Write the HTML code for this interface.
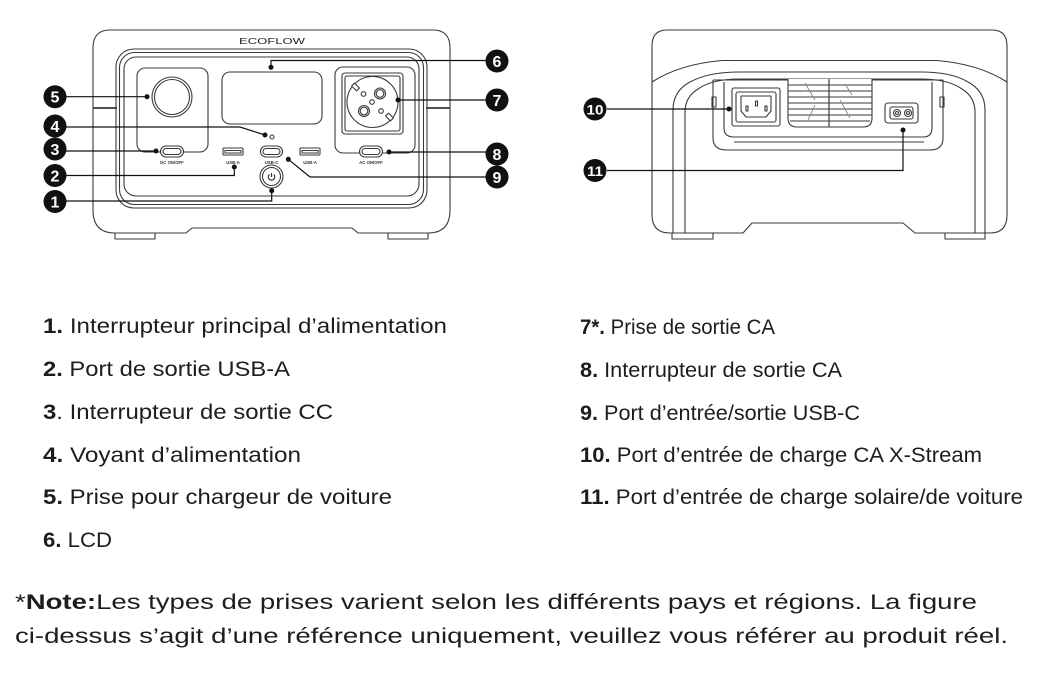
<!DOCTYPE html>
<html><head><meta charset="utf-8">
<style>
html,body{margin:0;padding:0;background:#fff;}
svg{display:block;}
</style></head>
<body>
<svg width="1046" height="674" viewBox="0 0 1046 674" xmlns="http://www.w3.org/2000/svg">
<rect x="0" y="0" width="1046" height="674" fill="#fff"/>

<!-- ================= FRONT DEVICE ================= -->
<g fill="none" stroke="#3a3a3a" stroke-width="1.1" stroke-linejoin="round">
  <path d="M110,30 H433 Q450,30 450,48 V210 Q450,233 428,233 H358 L352,228 H192 L186,233 H115 Q93,233 93,210 V48 Q93,30 110,30 Z"/>
  <path d="M115,233 V239 H155 V233"/>
  <path d="M388,233 V239 H428 V233"/>
  <line x1="93" y1="108" x2="117" y2="108" stroke-width="1.8"/>
  <line x1="426" y1="108" x2="450" y2="108" stroke-width="1.8"/>
  <rect x="116" y="49" width="311" height="159" rx="18"/>
  <rect x="119.5" y="52.5" width="304" height="152" rx="15"/>
  <rect x="124" y="57" width="295" height="139" rx="12"/>
  <rect x="137" y="68" width="71" height="84" rx="8"/>
  <circle cx="172" cy="97" r="20"/>
  <circle cx="172" cy="97" r="17.5"/>
  <rect x="222" y="72" width="100" height="52" rx="8"/>
  <rect x="335" y="67" width="80" height="86" rx="8"/>
  <rect x="342" y="73" width="61" height="61" rx="3"/>
  <rect x="345" y="76" width="55" height="55" rx="2"/>
  <circle cx="372.5" cy="102" r="25.5" fill="#fff"/>
  <circle cx="380" cy="93.5" r="5.5"/>
  <circle cx="380" cy="93.5" r="3.8"/>
  <circle cx="364" cy="111" r="5.5"/>
  <circle cx="364" cy="111" r="3.8"/>
  <circle cx="363.5" cy="94" r="2.3"/>
  <circle cx="381" cy="111" r="2.3"/>
  <circle cx="372" cy="102" r="2.3"/>
  <rect x="352" y="85" width="7" height="4" transform="rotate(45 355.5 87)" fill="#fff"/>
  <rect x="386" y="115" width="7" height="4" transform="rotate(45 389.5 117)" fill="#fff"/>
  <rect x="160.5" y="146" width="23" height="11" rx="5.5" fill="#fff"/>
  <rect x="163" y="148.5" width="18" height="6" rx="3"/>
  <rect x="223" y="148" width="20" height="7" rx="1" fill="#fff"/>
  <rect x="225" y="150.5" width="16" height="2.5"/>
  <rect x="260.5" y="146" width="22" height="11" rx="5.5" fill="#fff"/>
  <rect x="263" y="148.5" width="17" height="6" rx="3"/>
  <rect x="300" y="148" width="20" height="7" rx="1" fill="#fff"/>
  <rect x="302" y="150.5" width="16" height="2.5"/>
  <rect x="359.5" y="146" width="23" height="11" rx="5.5" fill="#fff"/>
  <rect x="362" y="148.5" width="18" height="6" rx="3"/>
  <circle cx="271.5" cy="176.5" r="11.5" fill="#fff"/>
  <circle cx="271.5" cy="176.5" r="9"/>
  <path d="M269.3,174.6 A3.2,3.2 0 1 0 273.7,174.6" stroke-width="1.2"/>
  <line x1="271.5" y1="173" x2="271.5" y2="177" stroke-width="1.2"/>
  <circle cx="272" cy="137" r="2"/>
</g>
<g font-family="Liberation Sans, sans-serif" font-size="4.3" font-weight="bold" fill="#333" text-anchor="middle">
  <text x="172" y="164">DC ON/OFF</text>
  <text x="233" y="164">USB-A</text>
  <text x="271.5" y="164">USB-C</text>
  <text x="310" y="164">USB-A</text>
  <text x="371" y="164">AC ON/OFF</text>
</g>
<text x="239" y="44" font-family="Liberation Sans, sans-serif" font-size="8" fill="#222" textLength="66" lengthAdjust="spacingAndGlyphs">ECOFLOW</text>

<g fill="none" stroke="#111" stroke-width="1.2">
  <line x1="66" y1="96.7" x2="147" y2="96.7"/>
  <polyline points="66,127 240,127 265,135"/>
  <line x1="66" y1="151" x2="156" y2="151"/>
  <polyline points="66,175.5 234.3,175.5 234.3,167"/>
  <polyline points="66,201 271.7,201 271.7,191"/>
  <polyline points="486,60.5 271,60.5 271,67"/>
  <line x1="486" y1="100" x2="398" y2="100"/>
  <line x1="486" y1="152" x2="389" y2="152"/>
  <polyline points="486,177 310,177 288.3,159.3"/>
</g>
<g fill="#111">
  <circle cx="147" cy="96.7" r="2.5"/>
  <circle cx="265" cy="135" r="2.5"/>
  <circle cx="156" cy="151" r="2.5"/>
  <circle cx="234.3" cy="167" r="2.5"/>
  <circle cx="271.7" cy="190.7" r="2.5"/>
  <circle cx="271" cy="67.3" r="2.5"/>
  <circle cx="398" cy="100" r="2.5"/>
  <circle cx="389" cy="152" r="2.5"/>
  <circle cx="288.3" cy="159.3" r="2.5"/>
</g>

<!-- ================= BACK DEVICE ================= -->
<g fill="none" stroke="#3a3a3a" stroke-width="1.1" stroke-linejoin="round">
  <path d="M667,30 H992 Q1007,30 1007,46 V215 Q1007,233 990,233 H915 L903,223 H752 L743,233 H670 Q652,233 652,215 V46 Q652,30 667,30 Z"/>
  <path d="M672,233 V239 H713 V233"/>
  <path d="M945,233 V239 H985 V233"/>
  <path d="M652,82 Q680,64 722,60.5 H937 Q979,64 1007,82"/>
  <path d="M673,233 V110 Q673,91 690,82 Q708,72 740,72 H920 Q952,72 968,82 Q985,91 985,110 V233"/>
  <path d="M685,233 V112 Q685,97 698,89 Q712,79 740,79 H920 Q948,79 962,89 Q975,97 975,112 V233"/>
  <line x1="713" y1="80" x2="943" y2="80"/>
  <path d="M713,80 V138 Q713,150 727,150 H930 Q943,150 943,138 V80"/>
  <path d="M724,82 V128 Q724,137 734,137 H923 Q932,137 932,128 V82"/>
  <line x1="734" y1="142" x2="924" y2="142"/>
  <rect x="712" y="97" width="4" height="10"/>
  <rect x="940" y="97" width="4" height="10"/>
  <path d="M788,79 V118 Q788,127 797,127 H863 Q872,127 872,118 V79" fill="#fff"/>
  <g stroke-width="0.9">
    <line x1="788" y1="85" x2="872" y2="85"/>
    <line x1="788" y1="91" x2="872" y2="91"/>
    <line x1="788" y1="97" x2="872" y2="97"/>
    <line x1="788" y1="103" x2="872" y2="103"/>
    <line x1="788" y1="109" x2="872" y2="109"/>
    <line x1="788" y1="115" x2="872" y2="115"/>
    <line x1="790" y1="121" x2="870" y2="121"/>
    <line x1="829" y1="79" x2="829" y2="127" stroke-width="1.2"/>
    <path d="M805,83 L815,100 M840,100 L850,118 M815,105 L808,120 M845,84 L852,95" stroke="#888"/>
  </g>
  <rect x="732" y="88" width="48" height="38" rx="2" fill="#fff"/>
  <rect x="736" y="92" width="40" height="30" rx="2"/>
  <path d="M741,96 H771 V111 L766,117 H746 L741,111 Z"/>
  <rect x="746" y="106" width="2" height="5"/>
  <rect x="755.5" y="101" width="2" height="5"/>
  <rect x="765" y="106" width="2" height="5"/>
  <rect x="885" y="103" width="33" height="20" rx="3" fill="#fff"/>
  <rect x="890" y="107" width="23" height="12" rx="2"/>
  <circle cx="897" cy="113" r="3.5"/>
  <circle cx="897" cy="113" r="1.5"/>
  <circle cx="908" cy="113" r="3.5"/>
  <circle cx="908" cy="113" r="1.5"/>
</g>
<g fill="none" stroke="#111" stroke-width="1.2">
  <line x1="607" y1="109" x2="729" y2="109"/>
  <polyline points="607,170.5 903,170.5 903,130"/>
</g>
<g fill="#111">
  <circle cx="729" cy="109" r="2.5"/>
  <circle cx="903" cy="130" r="2.5"/>
</g>

<!-- ================= BADGES ================= -->
<g fill="#111">
  <circle cx="55" cy="96.7" r="11.5"/>
  <circle cx="55" cy="126" r="11.5"/>
  <circle cx="55" cy="149" r="11.5"/>
  <circle cx="55" cy="175.5" r="11.5"/>
  <circle cx="55" cy="201.5" r="11.5"/>
  <circle cx="497" cy="61" r="11.5"/>
  <circle cx="497" cy="100" r="11.5"/>
  <circle cx="497" cy="154" r="11.5"/>
  <circle cx="497" cy="177" r="11.5"/>
  <circle cx="595" cy="109" r="11.5"/>
  <circle cx="595" cy="170.5" r="11.5"/>
</g>
<g font-family="Liberation Sans, sans-serif" font-size="16" font-weight="bold" fill="#fff" text-anchor="middle">
  <text x="55" y="102.5">5</text>
  <text x="55" y="131.8">4</text>
  <text x="55" y="154.8">3</text>
  <text x="55" y="181.3">2</text>
  <text x="55" y="207.3">1</text>
  <text x="497" y="66.8">6</text>
  <text x="497" y="105.8">7</text>
  <text x="497" y="159.8">8</text>
  <text x="497" y="182.8">9</text>
  <text x="595" y="114.5" font-size="14" textLength="17" lengthAdjust="spacingAndGlyphs">10</text>
  <text x="595" y="176" font-size="14" textLength="16" lengthAdjust="spacingAndGlyphs">11</text>
</g>

<!-- ================= LIST ================= -->
<g font-family="Liberation Sans, sans-serif" font-size="21" fill="#1d1d1b">
  <text x="43" y="333" textLength="404" lengthAdjust="spacingAndGlyphs"><tspan font-weight="bold">1.</tspan> Interrupteur principal d’alimentation</text>
  <text x="43" y="376" textLength="247" lengthAdjust="spacingAndGlyphs"><tspan font-weight="bold">2.</tspan> Port de sortie USB-A</text>
  <text x="43" y="419" textLength="290" lengthAdjust="spacingAndGlyphs"><tspan font-weight="bold">3</tspan>. Interrupteur de sortie CC</text>
  <text x="43" y="462" textLength="258" lengthAdjust="spacingAndGlyphs"><tspan font-weight="bold">4.</tspan> Voyant d’alimentation</text>
  <text x="43" y="504" textLength="349" lengthAdjust="spacingAndGlyphs"><tspan font-weight="bold">5.</tspan> Prise pour chargeur de voiture</text>
  <text x="43" y="547" textLength="69" lengthAdjust="spacingAndGlyphs"><tspan font-weight="bold">6.</tspan> LCD</text>

  <text x="580" y="334" textLength="195" lengthAdjust="spacingAndGlyphs"><tspan font-weight="bold">7*.</tspan> Prise de sortie CA</text>
  <text x="580" y="377" textLength="262" lengthAdjust="spacingAndGlyphs"><tspan font-weight="bold">8.</tspan> Interrupteur de sortie CA</text>
  <text x="580" y="420" textLength="280" lengthAdjust="spacingAndGlyphs"><tspan font-weight="bold">9.</tspan> Port d’entrée/sortie USB-C</text>
  <text x="580" y="462" textLength="402" lengthAdjust="spacingAndGlyphs"><tspan font-weight="bold">10.</tspan> Port d’entrée de charge CA X-Stream</text>
  <text x="580" y="504" textLength="443" lengthAdjust="spacingAndGlyphs"><tspan font-weight="bold">11.</tspan> Port d’entrée de charge solaire/de voiture</text>

  <text x="15" y="609" textLength="962" lengthAdjust="spacingAndGlyphs">*<tspan font-weight="bold">Note:</tspan>Les types de prises varient selon les différents pays et régions. La figure</text>
  <text x="15" y="643" textLength="993" lengthAdjust="spacingAndGlyphs">ci-dessus s’agit d’une référence uniquement, veuillez vous référer au produit réel.</text>
</g>
</svg>
</body></html>
